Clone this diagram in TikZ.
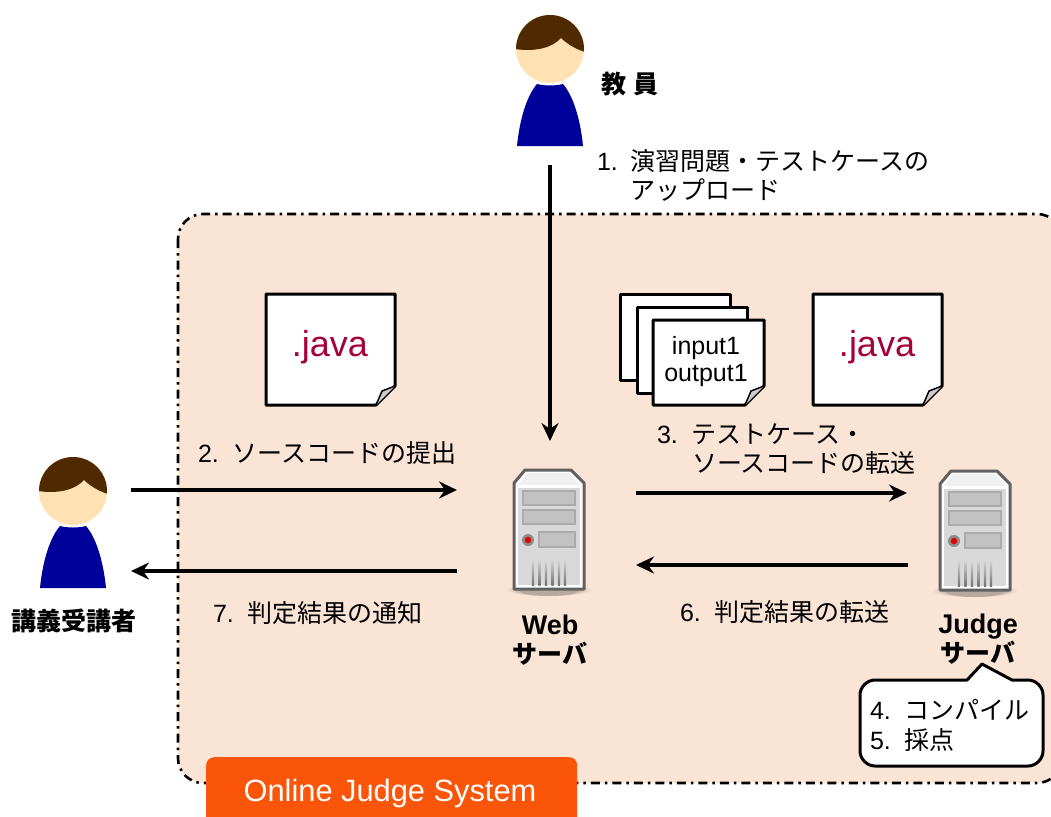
\documentclass[tikz,border=0pt]{standalone}
\usepackage{fontspec}
\setmainfont{Liberation Sans}
\newfontfamily\ja{Noto Sans CJK JP}
\usetikzlibrary{arrows.meta}
\definecolor{panelbg}{HTML}{F9E4D6}
\definecolor{hairc}{HTML}{4F2A00}
\definecolor{facec}{HTML}{FFE1B4}
\definecolor{bodyc}{HTML}{00009A}
\definecolor{javac}{HTML}{A6003A}
\definecolor{orangec}{HTML}{FA5508}
\tikzset{
  flow/.style={line width=3.4pt,-{Stealth[length=18pt,width=17pt,inset=6pt]}},
  lbl/.style={anchor=base west,inner sep=0pt,outer sep=0pt,font=\fontsize{25}{28}\selectfont},
  lblc/.style={anchor=base,inner sep=0pt,font=\fontsize{25}{28}\selectfont\bfseries},
  paper/.style={draw=black,fill=white,line width=3pt,line join=round},
  anchorbox/.style={inner sep=0pt,minimum width=72pt,minimum height=121pt}
}
% person: local coordinates, head centre at (550,49)
\newcommand{\personfig}[2]{%
\begin{scope}[shift={(#1,#2)}]
  \fill[bodyc] (537,84) .. controls (545,86) and (555,86) .. (563,84) .. controls (575,98) and (581,125) .. (583,146) -- (517,146) .. controls (519,125) and (525,98) .. (537,84) -- cycle;
  \fill[white] (550,49) circle (35.5);
  \fill[facec] (550,49) circle (34);
  \begin{scope}
    \clip (550,49) circle (34);
    \fill[hairc] (515,49) .. controls (535,52) and (552,48) .. (561,38) .. controls (566,43) and (575,49) .. (585,52) -- (585,10) -- (515,10) -- cycle;
  \end{scope}
\end{scope}}
% server: local coordinates for the Web server
\newcommand{\serverfig}[2]{%
\begin{scope}[shift={(#1,#2)}]
  \foreach \r/\o in {30/.10,34/.08,38/.06,42/.04}
    \fill[black,opacity=\o] (549,590) ellipse ({\r} and 6);
  \draw[draw=black!62,fill=white,line width=3pt,line join=round]
     (525,470) -- (571,470) -- (584,483) -- (584,589) -- (514,589) -- (514,483) -- cycle;
  \fill[black!15] (518,488) -- (580,488) -- (580,585) -- (518,585) -- cycle;
  \fill[black!6] (527,473) -- (569,473) -- (580,485) -- (518,485) -- cycle;
  \foreach \a/\b/\c/\d in {523/491/575/505,523/510/575/524,539/532/575/547}
    \draw[draw=black!33,fill=black!24,line width=2pt] (\a,\b) rectangle (\c,\d);
  \fill[black!45] (528,540) circle (6);
  \fill[red!90!black] (528,540) circle (3.2);
  \foreach \v in {533,539.5,546,552.5,559,565}
    \shade[top color=black!15,bottom color=black!55] (\v-1.2,559) rectangle (\v+1.2,585);
\end{scope}}
% document sheet: #1 x0, #2 y0, #3 x1, #4 y1
\newcommand{\sheet}[4]{%
  \draw[paper] (#1,#2) -- (#3,#2) -- (#3,#4-19) -- (#3-19,#4) -- (#1,#4) -- cycle;
  \draw[draw=black,fill=black!20,line width=1.5pt,line join=round] (#3,#4-19) -- (#3-13,#4-14) -- (#3-19,#4);}
\begin{document}
\begin{tikzpicture}[x=1pt,y=-1pt]
\useasboundingbox (0,0) rectangle (1051,816);
\clip (0,0) rectangle (1051,816);
\fill[white] (0,0) rectangle (1051,816);
% panel
\draw[fill=panelbg,line width=2.6pt,dash pattern=on 9pt off 5pt on 2.5pt off 5pt,rounded corners=25pt] (178,214) rectangle (1062,783);
% orange label
\node[fill=orangec,rounded corners=8pt,anchor=north west,minimum width=371pt,minimum height=90pt,inner sep=0pt] (sysbox) at (206,757) {};
\node[anchor=base,inner sep=0pt,text=white,font=\fontsize{30.8}{32}\selectfont] (systxt) at (390,801) {Online Judge System};
% sheets
\sheet{266}{294}{395}{405}
\node[anchor=base,inner sep=0pt,text=javac,font=\fontsize{36}{40}\selectfont] (java1) at (330,356) {.java};
\sheet{813}{294}{942}{405}
\node[anchor=base,inner sep=0pt,text=javac,font=\fontsize{36}{40}\selectfont] (java2) at (877,356) {.java};
\draw[paper] (620,294) rectangle (730,380);
\draw[paper] (637,307) rectangle (747,393);
\sheet{653}{320}{764}{405}
\node[anchor=base,inner sep=0pt,font=\fontsize{25}{28}\selectfont] (inp) at (706,354) {input1};
\node[anchor=base,inner sep=0pt,font=\fontsize{25}{28}\selectfont] (outp) at (706,381) {output1};
% figures
\personfig{0}{0}
\personfig{-477}{442}
\serverfig{0}{0}
\serverfig{426}{1}
\node[anchorbox] (teacher) at (550,80) {};
\node[anchorbox] (student) at (73,522) {};
\node[anchorbox] (web) at (549,530) {};
\node[anchorbox] (judge) at (975,531) {};
% connector ends
\coordinate (a1s) at (550,165);
\coordinate (a1e) at (550,441);
\coordinate (a2s) at (131,490);
\coordinate (a2e) at (457,490);
\coordinate (a7s) at (457,571);
\coordinate (a7e) at (131,571);
\coordinate (a3s) at (636,493);
\coordinate (a3e) at (907,493);
\coordinate (a6s) at (908,565);
\coordinate (a6e) at (636,565);
\draw[flow] (a1s) -- (a1e);
\draw[flow] (a2s) -- (a2e);
\draw[flow] (a7s) -- (a7e);
\draw[flow] (a3s) -- (a3e);
\draw[flow] (a6s) -- (a6e);
% labels
\node[lbl] (l1) at (597,170) {1.\hspace{13pt}{\ja 演習問題・テストケースの}};
\node[lbl] (l1b) at (630,199) {\ja アップロード};
\node[lbl] (l2) at (198,462) {2.\hspace{14pt}{\ja ソースコードの提出}};
\node[lbl] (l3) at (657,443) {3.\hspace{14pt}{\ja テストケース・}};
\node[lbl] (l3b) at (692,472) {\ja ソースコードの転送};
\node[lbl] (l7) at (213,622) {7.\hspace{14pt}{\ja 判定結果の通知}};
\node[lbl] (l6) at (680,621) {6.\hspace{14pt}{\ja 判定結果の転送}};
\node[lblc] (tname) at (630,93) {\ja\bfseries 教\hspace{7pt}員};
\node[lblc] (sname) at (74,630) {\ja\bfseries 講義受講者};
\node[lblc,font=\fontsize{27}{28}\selectfont\bfseries] (w1) at (550,634) {Web};
\node[lblc] (w2) at (550,663) {\ja\bfseries サーバ};
\node[lblc,font=\fontsize{27}{28}\selectfont\bfseries] (j1) at (978,633) {Judge};
\node[lblc] (j2) at (978,662) {\ja\bfseries サーバ};
% callout
\path[draw=black,fill=white,line width=3pt,line join=round]
  (875,680) -- (967,680) -- (982,664) -- (1012,680) -- (1028,680)
  .. controls (1036,680) and (1043,687) .. (1043,695) -- (1043,751)
  .. controls (1043,759) and (1036,766) .. (1028,766) -- (875,766)
  .. controls (867,766) and (860,759) .. (860,751) -- (860,695)
  .. controls (860,687) and (867,680) .. (875,680) -- cycle;
\node[lbl] (l4) at (870,719) {4.\hspace{14pt}{\ja コンパイル}};
\node[lbl] (l5) at (870,749) {5.\hspace{14pt}{\ja 採点}};
\end{tikzpicture}
\end{document}
